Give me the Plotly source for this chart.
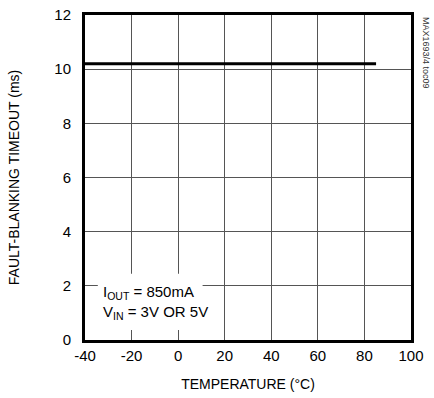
import plotly.graph_objects as go

# Fault-blanking timeout vs. temperature
temperature_c = [-40, 85]
timeout_ms = [10.2, 10.2]

x_ticks = [-40, -20, 0, 20, 40, 60, 80, 100]
x_tick_text = ["-40", "-20", "0", "20", "40", "60", "80", "100"]
y_ticks = [0, 2, 4, 6, 8, 10, 12]

FONT = "Liberation Sans Narrow, Arial Narrow, Liberation Sans, sans-serif"

fig = go.Figure()
fig.add_trace(go.Scatter(
    x=temperature_c, y=timeout_ms, mode="lines",
    line=dict(color="black", width=3), showlegend=False,
))

fig.update_layout(
    width=434, height=398,
    margin=dict(l=85, r=23, t=15, b=58, autoexpand=False),
    paper_bgcolor="white", plot_bgcolor="white",
    font=dict(family=FONT, size=14, color="black"),
    xaxis=dict(
        range=[-40, 100], tickvals=x_ticks, ticktext=x_tick_text, ticks="",
        showgrid=True, gridcolor="#555", gridwidth=1, zeroline=False,
        showline=True, linecolor="black", linewidth=3, mirror=True,
        automargin=False,
        title=dict(text="TEMPERATURE (°C)", font=dict(size=14), standoff=17),
        tickfont=dict(size=15),
    ),
    yaxis=dict(
        range=[0, 12], tickvals=y_ticks, ticks="", showgrid=True,
        gridcolor="#555", gridwidth=1, zeroline=False,
        showline=True, linecolor="black", linewidth=3, mirror=True,
        ticklabelstandoff=8, automargin=False,
        title=dict(text="FAULT-BLANKING TIMEOUT (ms)", font=dict(size=14), standoff=32),
        tickfont=dict(size=15),
    ),
)

# Conditions label on a white patch over the grid
fig.add_shape(type="rect", xref="x", yref="y",
              x0=-34.5, x1=10.5, y0=0.37, y1=2.45,
              fillcolor="white", line=dict(width=0), layer="above")
fig.add_annotation(
    xref="x", yref="y", x=-33, y=1.4, xanchor="left", yanchor="middle",
    showarrow=False, align="left",
    text="I<sub>OUT</sub> = 850mA<br>V<sub>IN</sub> = 3V OR 5V",
    font=dict(size=15, family=FONT),
)

fig.add_annotation(
    xref="paper", yref="paper", x=1.0, y=1.0, xshift=8,
    xanchor="left", yanchor="top", showarrow=False, textangle=90,
    text="MAX1693/4 toc09", font=dict(size=9, family=FONT, color="#333"),
)

fig.write_html("out.html")
